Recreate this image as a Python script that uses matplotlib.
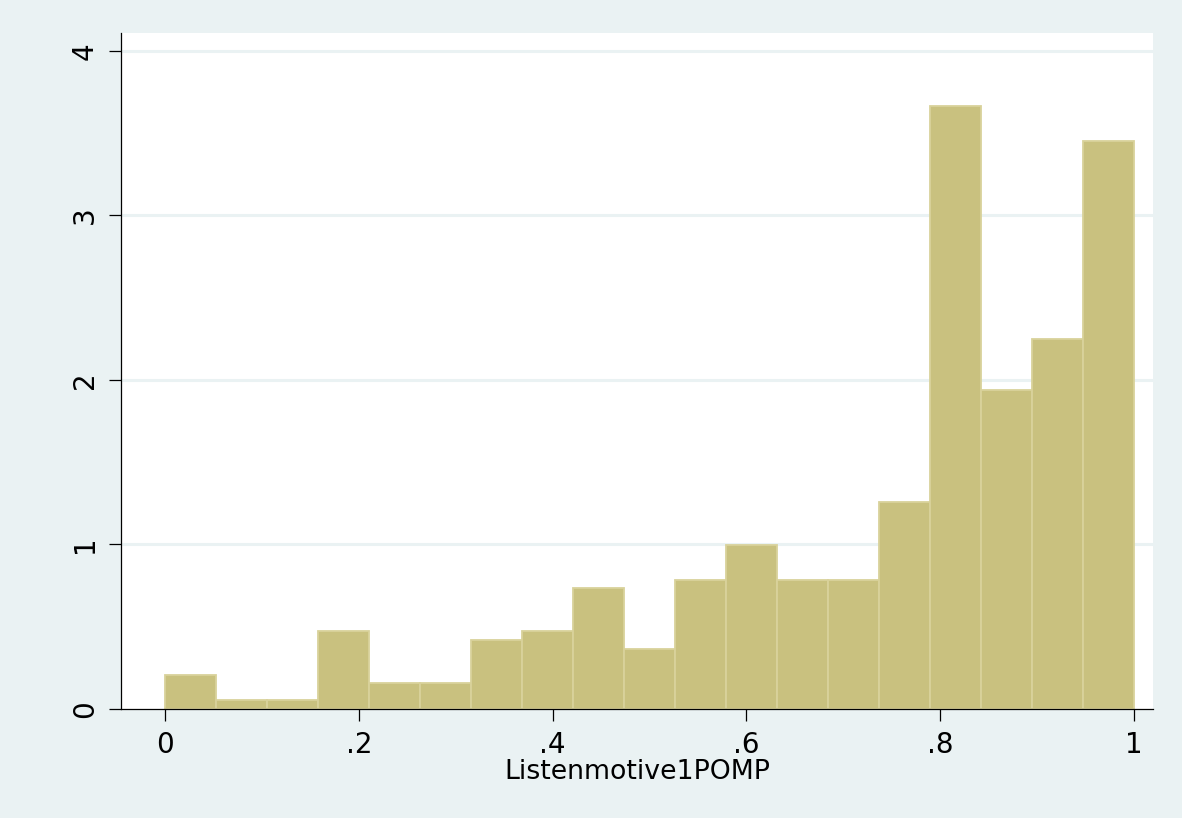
import numpy as np
import matplotlib
matplotlib.use("Agg")
import matplotlib.pyplot as plt

# Histogram of Listenmotive1POMP: 19 equal bins on [0, 1], density scale
bin_edges = np.linspace(0, 1, 20)
counts = [4, 1, 1, 9, 3, 3, 8, 9, 14, 7, 15, 19, 15, 15, 24, 70, 37, 43, 66]
x_ticks = [0, 0.2, 0.4, 0.6, 0.8, 1.0]
x_tick_labels = ["0", ".2", ".4", ".6", ".8", "1"]
y_ticks = [0, 1, 2, 3, 4]
y_tick_labels = ["0", "1", "2", "3", "4"]
x_title = "Listenmotive1POMP"

counts = np.asarray(counts, dtype=float)
widths = np.diff(bin_edges)
density = counts / (counts.sum() * widths)

plt.rcParams["font.family"] = ["DejaVu Sans"]

bg = "#eaf2f3"
fig = plt.figure(figsize=(11.82, 8.18), dpi=100, facecolor=bg)
ax = fig.add_axes([0.1024, 0.1333, 0.8731, 0.8264], facecolor="white")

# horizontal grid in the graph-region tint
for yv in y_ticks[1:]:
    ax.axhline(yv, color=bg, linewidth=2.2, zorder=0.5)

ax.bar(bin_edges[:-1], density, width=widths, align="edge",
       color="#c9c17f", edgecolor="#d9d29b", linewidth=1.3, zorder=2)

ax.set_xlim(-0.0454, 1.0196)
ax.set_ylim(0, 4.109)

ax.set_xticks(x_ticks)
ax.set_xticklabels(x_tick_labels)
ax.set_yticks(y_ticks)
ax.set_yticklabels(y_tick_labels, rotation=90, va="center")

ax.tick_params(axis="both", length=8.6, width=0.9, color="black",
               labelsize=20, pad=7.5, direction="out")

for side in ("top", "right"):
    ax.spines[side].set_visible(False)
for side in ("left", "bottom"):
    ax.spines[side].set_linewidth(0.9)
    ax.spines[side].set_color("black")

ax.set_xlabel(x_title, fontsize=19.3, labelpad=0)

fig.savefig("out.png", dpi=100, facecolor=bg)
